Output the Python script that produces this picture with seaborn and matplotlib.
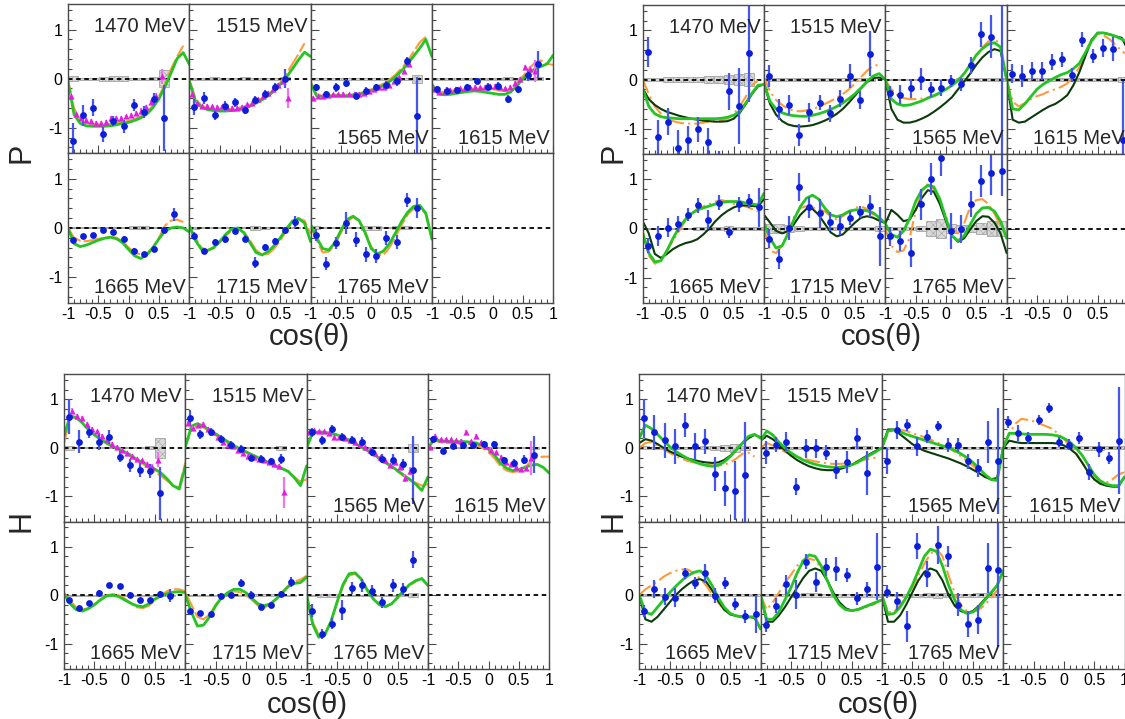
import matplotlib
matplotlib.use("Agg")
import matplotlib.pyplot as plt
from matplotlib.ticker import FixedLocator, MultipleLocator
import seaborn as sns

# ---------------------------------------------------------------- data
ENERGY_LABELS = ["1470 MeV", "1515 MeV", "1565 MeV", "1615 MeV",
                 "1665 MeV", "1715 MeV", "1765 MeV"]

# cos(theta) grid on which the model curves are tabulated
COS_GRID = [-1.0, -0.9, -0.8, -0.7, -0.6, -0.5, -0.4, -0.3, -0.2, -0.1, 0.0,
            0.1, 0.2, 0.3, 0.4, 0.5, 0.6, 0.7, 0.8, 0.9, 1.0]
# bin centres of the measured points (12 bins)
BIN_CENTERS = [-0.917, -0.75, -0.583, -0.417, -0.25, -0.083,
               0.083, 0.25, 0.417, 0.583, 0.75, 0.917]
# bin centres of the finer reference data set (24 bins)
MAG_GRID = [-0.958, -0.875, -0.792, -0.708, -0.625, -0.542, -0.458, -0.375,
            -0.292, -0.208, -0.125, -0.042, 0.042, 0.125, 0.208, 0.292,
            0.375, 0.458, 0.542, 0.625, 0.708, 0.792, 0.875, 0.958]

# ---- P, left block
P_L_Y = [
    [-1.26, -0.75, -0.59, -1.13, -0.87, -0.97, -0.53, -0.68, -0.42, -0.80],
    [-0.58, -0.40, -0.74, -0.55, -0.48, -0.63, -0.44, -0.31, -0.18, 0.00],
    [-0.18, -0.32, -0.18, -0.08, -0.35, -0.25, -0.18, -0.12, -0.05, 0.35, -0.76],
    [-0.22, -0.25, -0.23, -0.16, -0.05, -0.16, -0.14, -0.41, -0.22, 0.07, 0.29],
    [-0.25, -0.17, -0.14, -0.05, -0.09, -0.23, -0.47, -0.54, -0.42, -0.05, 0.28],
    [-0.16, -0.47, -0.28, -0.22, -0.06, -0.22, -0.71, -0.39, -0.27, -0.05, 0.12],
    [-0.15, -0.73, -0.31, 0.10, -0.24, -0.54, -0.57, -0.21, -0.28, 0.57, 0.41],
]
P_L_ERR = [
    [0.35, 0.22, 0.17, 0.15, 0.10, 0.13, 0.12, 0.12, 0.12, 0.68],
    [0.17, 0.12, 0.10, 0.10, 0.09, 0.08, 0.08, 0.08, 0.09, 0.20],
    [0.07, 0.07, 0.09, 0.08, 0.07, 0.07, 0.08, 0.08, 0.09, 0.10, 0.80],
    [0.07, 0.07, 0.06, 0.06, 0.06, 0.07, 0.07, 0.08, 0.08, 0.11, 0.27],
    [0.05, 0.04, 0.04, 0.05, 0.05, 0.06, 0.06, 0.06, 0.06, 0.07, 0.13],
    [0.07, 0.06, 0.06, 0.08, 0.06, 0.07, 0.11, 0.07, 0.07, 0.07, 0.12],
    [0.12, 0.13, 0.12, 0.22, 0.15, 0.15, 0.15, 0.14, 0.14, 0.15, 0.20],
]
P_L_SYS = [
    [0.05, 0.02, 0.02, 0.04, 0.05, 0.05, 0.02, 0.02, 0.03, 0.18],
    [0.02, 0.02, 0.03, 0.02, 0.02, 0.03, 0.02, 0.02, 0.02, 0.03],
    [0.02, 0.02, 0.02, 0.02, 0.02, 0.02, 0.02, 0.02, 0.02, 0.02, 0.08],
    [0.02, 0.02, 0.02, 0.02, 0.02, 0.02, 0.02, 0.03, 0.02, 0.02, 0.03],
    [0.01, 0.01, 0.01, 0.01, 0.01, 0.01, 0.03, 0.03, 0.01, 0.01, 0.01],
    [0.02, 0.01, 0.01, 0.01, 0.01, 0.01, 0.04, 0.02, 0.01, 0.01, 0.01],
    [0.03, 0.01, 0.01, 0.01, 0.01, 0.04, 0.04, 0.01, 0.03, 0.03, 0.01],
]
P_L_MAG_START = [0, 0, 0, 0]
P_L_MAG_Y = [
    [-0.35, -0.72, -0.80, -0.84, -0.86, -0.90, -0.90, -0.88, -0.80, -0.80,
     -0.80, -0.77, -0.73, -0.70, -0.65, -0.58, -0.48, -0.35, 0.05],
    [-0.32, -0.49, -0.55, -0.55, -0.56, -0.57, -0.56, -0.58, -0.59, -0.59,
     -0.57, -0.52, -0.49, -0.42, -0.35, -0.29, -0.22, -0.12, -0.05, -0.39],
    [-0.39, -0.35, -0.35, -0.34, -0.32, -0.32, -0.31, -0.32, -0.32, -0.31,
     -0.29, -0.25, -0.22, -0.18, -0.16, -0.12, -0.05, 0.04, 0.16, 0.29],
    [-0.22, -0.27, -0.25, -0.23, -0.22, -0.20, -0.19, -0.18, -0.16, -0.18,
     -0.16, -0.15, -0.14, -0.16, -0.20, -0.16, -0.08, -0.01, 0.23, 0.19, 0.16],
]
P_L_MAG_ERR = [
    [0.05, 0.05, 0.04, 0.04, 0.04, 0.04, 0.04, 0.04, 0.04, 0.04,
     0.04, 0.04, 0.04, 0.04, 0.05, 0.05, 0.05, 0.06, 0.15],
    [0.04, 0.03, 0.03, 0.03, 0.03, 0.03, 0.03, 0.03, 0.03, 0.03,
     0.03, 0.03, 0.03, 0.03, 0.03, 0.03, 0.04, 0.04, 0.05, 0.20],
    [0.03, 0.03, 0.03, 0.03, 0.03, 0.03, 0.03, 0.03, 0.03, 0.03,
     0.03, 0.03, 0.03, 0.03, 0.03, 0.03, 0.03, 0.04, 0.04, 0.05],
    [0.03, 0.03, 0.03, 0.03, 0.03, 0.03, 0.03, 0.03, 0.03, 0.03,
     0.03, 0.03, 0.03, 0.03, 0.03, 0.03, 0.04, 0.04, 0.05, 0.06, 0.22],
]
P_L_SOL1 = [
    [-0.05, -0.73, -0.91, -0.96, -0.97, -0.97, -0.97, -0.96, -0.94, -0.91, -0.89,
     -0.85, -0.80, -0.72, -0.59, -0.41, -0.16, 0.12, 0.41, 0.53, 0.29],
    [-0.05, -0.45, -0.58, -0.63, -0.65, -0.66, -0.66, -0.65, -0.63, -0.60, -0.56,
     -0.50, -0.43, -0.35, -0.25, -0.12, 0.03, 0.20, 0.38, 0.54, 0.45],
    [-0.10, -0.35, -0.36, -0.36, -0.35, -0.35, -0.35, -0.34, -0.32, -0.28, -0.24,
     -0.20, -0.14, -0.06, 0.04, 0.16, 0.30, 0.46, 0.62, 0.80, 0.45],
    [-0.12, -0.30, -0.33, -0.32, -0.30, -0.28, -0.26, -0.25, -0.26, -0.28, -0.30,
     -0.32, -0.32, -0.27, -0.15, 0.00, 0.12, 0.20, 0.25, 0.30, 0.48],
    [0.00, -0.32, -0.38, -0.35, -0.30, -0.25, -0.21, -0.19, -0.22, -0.30, -0.44,
     -0.57, -0.62, -0.55, -0.40, -0.22, -0.06, 0.00, 0.02, 0.00, -0.08],
    [0.05, -0.25, -0.44, -0.46, -0.40, -0.28, -0.13, -0.02, 0.00, -0.10, -0.30,
     -0.50, -0.55, -0.48, -0.36, -0.20, -0.02, 0.14, 0.19, 0.10, -0.28],
    [0.07, -0.20, -0.42, -0.45, -0.30, -0.05, 0.17, 0.24, 0.15, -0.10, -0.42,
     -0.53, -0.47, -0.32, -0.10, 0.13, 0.32, 0.44, 0.46, 0.30, -0.23],
]
P_L_ORANGE = [
    [-0.05, -0.60, -0.85, -0.90, -0.92, -0.93, -0.93, -0.92, -0.90, -0.88,
     -0.86, -0.82, -0.77, -0.68, -0.55, -0.36, -0.10, 0.20, 0.45, 0.67],
    [-0.02, -0.40, -0.55, -0.60, -0.62, -0.63, -0.63, -0.62, -0.60, -0.57,
     -0.53, -0.47, -0.40, -0.32, -0.21, -0.08, 0.10, 0.30, 0.50, 0.72],
    [-0.05, -0.32, -0.34, -0.34, -0.33, -0.33, -0.33, -0.32, -0.30, -0.26,
     -0.22, -0.17, -0.10, -0.02, 0.08, 0.21, 0.36, 0.55, 0.74, 0.85],
    [-0.10, -0.28, -0.27, -0.25, -0.23, -0.22, -0.21, -0.20, -0.20, -0.20,
     -0.21, -0.24, -0.25, -0.20, -0.08, 0.05, 0.20, 0.33, 0.37, 0.30, 0.28],
    [0.00, -0.20, -0.26, -0.27, -0.25, -0.22, -0.20, -0.18, -0.20, -0.27,
     -0.40, -0.50, -0.54, -0.52, -0.40, -0.20, 0.05, 0.15, 0.17, 0.12],
    [0.05, -0.20, -0.40, -0.45, -0.42, -0.30, -0.16, -0.05, -0.02, -0.08,
     -0.25, -0.45, -0.55, -0.53, -0.42, -0.26, -0.06, 0.12, 0.20, 0.15, -0.12],
    [0.05, -0.25, -0.50, -0.48, -0.35, -0.10, 0.12, 0.22, 0.14, -0.08,
     -0.38, -0.55, -0.55, -0.40, -0.18, 0.06, 0.27, 0.40, 0.42, 0.28, -0.18],
]

# ---- P, right block
P_R_Y = [
    [0.56, -1.17, -0.86, -1.39, -1.23, -1.02, -1.27, -1.75, -0.24, -0.54, 0.55],
    [0.07, -0.61, -0.52, -1.13, -0.67, -0.47, -0.69, -0.39, 0.07, -0.42, 0.53],
    [-0.28, -0.31, -0.18, 0.01, -0.20, -0.18, -0.03, -0.10, 0.29, 0.92, 0.87, -1.70],
    [0.12, 0.07, 0.17, 0.17, 0.36, 0.41, 0.09, 0.81, 0.48, 0.64, 0.62, -1.23],
    [-0.35, -0.15, 0.02, 0.09, 0.28, 0.47, 0.18, 0.53, -0.08, 0.49, 0.56, 0.43],
    [-0.21, -0.62, 0.01, 0.85, 0.43, 0.31, 0.14, 0.06, 0.21, 0.33, 0.46, -0.16],
    [-0.16, -0.26, -0.49, 0.49, 1.01, 1.43, -0.05, -0.01, 0.50, 0.97, 1.13, 1.17],
]
P_R_ERR = [
    [0.30, 0.35, 0.28, 0.35, 0.28, 0.26, 0.28, 0.30, 0.38, 0.77, 1.00],
    [0.23, 0.22, 0.20, 0.22, 0.19, 0.15, 0.17, 0.17, 0.25, 0.18, 0.46],
    [0.14, 0.20, 0.20, 0.22, 0.15, 0.16, 0.13, 0.14, 0.17, 0.25, 0.44, 3.30],
    [0.20, 0.23, 0.19, 0.19, 0.17, 0.15, 0.14, 0.15, 0.15, 0.19, 0.25, 1.20],
    [0.15, 0.20, 0.20, 0.16, 0.13, 0.15, 0.19, 0.15, 0.12, 0.15, 0.15, 0.39],
    [0.19, 0.20, 0.24, 0.29, 0.22, 0.29, 0.20, 0.19, 0.14, 0.12, 0.22, 0.60],
    [0.20, 0.20, 0.29, 0.32, 0.32, 0.35, 0.37, 0.29, 0.26, 0.32, 0.44, 0.50],
]
P_R_SYS = [
    [0.04, 0.04, 0.05, 0.06, 0.06, 0.06, 0.07, 0.08, 0.10, 0.12, 0.14],
    [0.03, 0.03, 0.03, 0.04, 0.04, 0.04, 0.03, 0.03, 0.03, 0.03, 0.04],
    [0.02, 0.02, 0.02, 0.02, 0.02, 0.02, 0.02, 0.03, 0.03, 0.04, 0.04, 0.04],
    [0.03, 0.03, 0.03, 0.03, 0.03, 0.03, 0.03, 0.03, 0.03, 0.03, 0.04, 0.05],
    [0.02, 0.02, 0.02, 0.02, 0.02, 0.03, 0.04, 0.04, 0.05, 0.03, 0.03, 0.03],
    [0.10, 0.09, 0.08, 0.05, 0.04, 0.03, 0.03, 0.03, 0.04, 0.04, 0.04, 0.05],
    [0.03, 0.03, 0.04, 0.06, 0.15, 0.19, 0.10, 0.08, 0.08, 0.12, 0.15, 0.15],
]
P_R_SOL1 = [
    [-0.18, -0.55, -0.70, -0.76, -0.78, -0.79, -0.80, -0.80, -0.80, -0.80, -0.80,
     -0.80, -0.80, -0.79, -0.77, -0.73, -0.65, -0.48, -0.28, -0.12, -0.10],
    [-0.08, -0.45, -0.60, -0.68, -0.72, -0.74, -0.75, -0.75, -0.73, -0.70, -0.66,
     -0.61, -0.55, -0.48, -0.39, -0.29, -0.17, -0.04, 0.07, 0.12, 0.00],
    [0.00, -0.40, -0.50, -0.53, -0.52, -0.48, -0.44, -0.38, -0.33, -0.27, -0.20,
     -0.12, -0.02, 0.12, 0.30, 0.50, 0.63, 0.72, 0.75, 0.66, 0.00],
    [0.00, -0.60, -0.62, -0.50, -0.35, -0.20, -0.10, -0.03, 0.04, 0.10, 0.14,
     0.22, 0.33, 0.55, 0.78, 0.95, 0.95, 0.92, 0.88, 0.82, 0.75],
    [-0.10, -0.50, -0.68, -0.66, -0.45, -0.20, 0.02, 0.18, 0.30, 0.38, 0.42,
     0.46, 0.50, 0.53, 0.55, 0.55, 0.55, 0.52, 0.50, 0.48, 0.72],
    [0.11, -0.20, -0.40, -0.35, -0.10, 0.20, 0.45, 0.62, 0.68, 0.60, 0.42,
     0.28, 0.24, 0.28, 0.35, 0.38, 0.38, 0.36, 0.32, 0.22, 0.11],
    [0.10, -0.12, -0.18, -0.05, 0.20, 0.55, 0.78, 0.88, 0.85, 0.60, 0.20,
     -0.15, -0.25, -0.15, 0.08, 0.30, 0.42, 0.43, 0.35, 0.15, -0.20],
]
P_R_SOL2 = [
    [-0.18, -0.40, -0.52, -0.60, -0.66, -0.70, -0.74, -0.77, -0.80, -0.82, -0.84,
     -0.85, -0.86, -0.86, -0.85, -0.80, -0.68, -0.50, -0.30, -0.14, -0.10],
    [-0.08, -0.50, -0.72, -0.85, -0.92, -0.95, -0.96, -0.95, -0.93, -0.89, -0.84,
     -0.78, -0.70, -0.60, -0.47, -0.33, -0.18, -0.05, 0.03, 0.04, 0.00],
    [0.00, -0.60, -0.82, -0.88, -0.88, -0.85, -0.80, -0.74, -0.66, -0.57, -0.47,
     -0.36, -0.20, -0.04, 0.12, 0.30, 0.45, 0.56, 0.62, 0.58, 0.00],
    [0.00, -0.82, -0.88, -0.86, -0.78, -0.70, -0.62, -0.55, -0.50, -0.42, -0.32,
     -0.12, 0.15, 0.48, 0.80, 0.95, 0.95, 0.92, 0.88, 0.85, 0.60],
    [0.15, -0.10, -0.52, -0.60, -0.52, -0.42, -0.35, -0.30, -0.27, -0.22, -0.12,
     0.00, 0.15, 0.27, 0.36, 0.43, 0.47, 0.47, 0.46, 0.45, 0.60],
    [0.28, 0.12, -0.05, -0.10, -0.05, 0.10, 0.28, 0.40, 0.40, 0.28, 0.10,
     -0.08, -0.16, -0.12, 0.00, 0.12, 0.22, 0.25, 0.22, 0.16, 0.11],
    [0.10, 0.38, 0.28, 0.15, 0.18, 0.38, 0.62, 0.78, 0.75, 0.50, 0.15,
     -0.15, -0.27, -0.20, -0.02, 0.15, 0.25, 0.24, 0.12, -0.10, -0.50],
]
P_R_ORANGE = [
    [0.00, -0.30, -0.55, -0.70, -0.80, -0.85, -0.88, -0.90, -0.90, -0.90,
     -0.88, -0.86, -0.85, -0.83, -0.80, -0.70, -0.55, -0.35, -0.12, -0.02],
    [0.05, -0.25, -0.42, -0.52, -0.60, -0.64, -0.65, -0.63, -0.60, -0.56,
     -0.50, -0.44, -0.37, -0.30, -0.20, -0.08, 0.05, 0.18, 0.28, 0.30],
    [0.00, -0.20, -0.32, -0.38, -0.40, -0.40, -0.39, -0.37, -0.34, -0.28,
     -0.20, -0.12, 0.00, 0.13, 0.30, 0.48, 0.65, 0.78, 0.80, 0.75],
    [0.00, -0.45, -0.55, -0.48, -0.40, -0.34, -0.30, -0.24, -0.20, -0.15,
     -0.08, 0.05, 0.25, 0.55, 0.82, 0.93, 0.90, 0.82, 0.70, 0.58, 0.50],
    [-0.05, -0.55, -0.72, -0.65, -0.45, -0.25, -0.05, 0.15, 0.30, 0.40,
     0.45, 0.50, 0.55, 0.58, 0.55, 0.50, 0.48, 0.45, 0.40, 0.35],
    [0.00, -0.45, -0.50, -0.35, -0.05, 0.25, 0.42, 0.45, 0.43, 0.40,
     0.35, 0.25, 0.18, 0.25, 0.35, 0.42, 0.45, 0.40, 0.28, 0.12],
    [0.00, -0.35, -0.48, -0.45, -0.20, 0.35, 0.75, 0.90, 0.80, 0.50,
     0.25, 0.00, -0.10, 0.10, 0.45, 0.58, 0.60, 0.50, 0.30, 0.05],
]

# ---- H, left block
H_L_Y = [
    [0.64, 0.13, 0.33, 0.12, 0.22, -0.18, -0.36, -0.46, -0.48, -0.94],
    [0.62, 0.28, 0.33, 0.18, 0.07, -0.02, -0.20, -0.22, -0.28, -0.23],
    [0.32, 0.16, 0.39, 0.22, 0.16, 0.13, -0.09, -0.22, -0.24, -0.34, -0.46],
    [0.18, -0.07, 0.03, 0.06, 0.05, 0.09, 0.08, -0.26, -0.31, -0.24, -0.14],
    [-0.10, -0.26, -0.17, 0.05, 0.20, 0.18, 0.01, -0.10, -0.10, 0.03, -0.01],
    [-0.33, -0.37, -0.40, -0.02, 0.01, 0.25, 0.01, -0.25, -0.20, 0.03, 0.27],
    [-0.32, -0.81, -0.59, -0.31, 0.15, 0.20, 0.09, -0.15, 0.20, 0.12, 0.73],
]
H_L_ERR = [
    [0.36, 0.23, 0.12, 0.17, 0.14, 0.12, 0.14, 0.14, 0.15, 0.55],
    [0.17, 0.10, 0.08, 0.08, 0.07, 0.07, 0.07, 0.08, 0.08, 0.10],
    [0.10, 0.09, 0.09, 0.08, 0.08, 0.09, 0.08, 0.09, 0.11, 0.12, 0.70],
    [0.07, 0.06, 0.06, 0.06, 0.06, 0.06, 0.06, 0.08, 0.08, 0.10, 0.38],
    [0.05, 0.04, 0.04, 0.05, 0.05, 0.05, 0.05, 0.05, 0.05, 0.06, 0.14],
    [0.05, 0.05, 0.05, 0.06, 0.06, 0.09, 0.07, 0.06, 0.06, 0.06, 0.11],
    [0.13, 0.10, 0.12, 0.20, 0.13, 0.14, 0.12, 0.12, 0.14, 0.12, 0.18],
]
H_L_SYS = [
    [0.04, 0.01, 0.01, 0.01, 0.01, 0.01, 0.01, 0.01, 0.03, 0.20],
    [0.01, 0.01, 0.01, 0.01, 0.01, 0.01, 0.01, 0.01, 0.01, 0.04],
    [0.01, 0.01, 0.01, 0.01, 0.01, 0.01, 0.01, 0.01, 0.01, 0.01, 0.08],
    [0.01, 0.01, 0.01, 0.01, 0.01, 0.01, 0.01, 0.01, 0.01, 0.01, 0.02],
    [0.01, 0.01, 0.01, 0.01, 0.01, 0.01, 0.01, 0.01, 0.01, 0.01, 0.01],
    [0.01, 0.01, 0.01, 0.01, 0.01, 0.01, 0.02, 0.02, 0.02, 0.01, 0.01],
    [0.01, 0.03, 0.03, 0.01, 0.01, 0.01, 0.01, 0.01, 0.01, 0.01, 0.04],
]
H_L_MAG_START = [1, 0, 0, 0]
H_L_MAG_Y = [
    [0.76, 0.66, 0.61, 0.49, 0.39, 0.34, 0.25, 0.18, 0.09, 0.01,
     -0.04, -0.11, -0.16, -0.22, -0.26, -0.34, -0.39, -0.24],
    [0.52, 0.42, 0.47, 0.50, 0.39, 0.32, 0.22, 0.12, 0.07, 0.03,
     -0.04, -0.11, -0.16, -0.19, -0.22, -0.26, -0.29, -0.33, -0.38, -0.92],
    [0.32, 0.37, 0.34, 0.35, 0.30, 0.22, 0.23, 0.20, 0.16, 0.12,
     0.08, 0.01, -0.05, -0.11, -0.19, -0.24, -0.36, -0.29, -0.39, -0.62, -0.47],
    [0.01, 0.25, 0.18, 0.18, 0.18, 0.16, 0.15, 0.33, 0.14, 0.25,
     0.12, 0.03, -0.04, -0.09, -0.18, -0.29, -0.33, -0.39, -0.43, -0.41, -0.20],
]
H_L_MAG_ERR = [
    [0.06, 0.04, 0.04, 0.04, 0.04, 0.04, 0.04, 0.04, 0.04, 0.04,
     0.04, 0.04, 0.04, 0.04, 0.04, 0.05, 0.05, 0.15],
    [0.04, 0.03, 0.03, 0.03, 0.03, 0.03, 0.03, 0.03, 0.03, 0.03,
     0.03, 0.03, 0.03, 0.03, 0.03, 0.03, 0.03, 0.04, 0.05, 0.32],
    [0.03, 0.03, 0.03, 0.03, 0.03, 0.03, 0.03, 0.03, 0.03, 0.03,
     0.03, 0.03, 0.03, 0.03, 0.03, 0.03, 0.04, 0.04, 0.05, 0.08, 0.08],
    [0.03, 0.03, 0.03, 0.03, 0.03, 0.03, 0.03, 0.03, 0.03, 0.03,
     0.03, 0.03, 0.03, 0.03, 0.03, 0.03, 0.04, 0.04, 0.04, 0.05, 0.35],
]
H_L_SOL1 = [
    [0.25, 0.66, 0.63, 0.52, 0.38, 0.27, 0.18, 0.10, 0.03, -0.02, -0.08,
     -0.15, -0.24, -0.30, -0.37, -0.44, -0.52, -0.64, -0.78, -0.85, -0.38],
    [0.01, 0.45, 0.50, 0.45, 0.37, 0.29, 0.21, 0.13, 0.05, -0.02, -0.08,
     -0.14, -0.20, -0.26, -0.32, -0.38, -0.43, -0.49, -0.62, -0.78, -0.37],
    [0.00, 0.32, 0.33, 0.32, 0.30, 0.27, 0.22, 0.16, 0.09, 0.02, -0.05,
     -0.13, -0.22, -0.30, -0.38, -0.47, -0.56, -0.65, -0.75, -0.88, -0.60],
    [0.00, 0.17, 0.15, 0.14, 0.13, 0.13, 0.13, 0.12, 0.10, 0.05, -0.03,
     -0.15, -0.32, -0.42, -0.47, -0.45, -0.40, -0.36, -0.34, -0.40, -0.52],
    [0.03, -0.18, -0.30, -0.33, -0.28, -0.20, -0.10, -0.02, 0.00, -0.03, -0.10,
     -0.17, -0.22, -0.24, -0.18, -0.08, -0.02, 0.03, 0.06, 0.07, 0.05],
    [0.00, -0.35, -0.64, -0.62, -0.45, -0.22, -0.05, 0.05, 0.12, 0.12, 0.05,
     -0.07, -0.18, -0.22, -0.18, -0.08, 0.05, 0.18, 0.24, 0.26, 0.37],
    [0.00, -0.60, -0.87, -0.82, -0.55, -0.15, 0.22, 0.44, 0.46, 0.33, 0.10,
     -0.08, -0.20, -0.24, -0.18, -0.05, 0.10, 0.22, 0.30, 0.34, 0.20],
]
H_L_ORANGE = [
    [0.10, 0.62, 0.62, 0.52, 0.38, 0.27, 0.18, 0.10, 0.03, -0.03, -0.09,
     -0.17, -0.26, -0.33, -0.42, -0.50, -0.58, -0.68, -0.78, -0.82, -0.30],
    [0.05, 0.40, 0.45, 0.42, 0.34, 0.26, 0.18, 0.10, 0.03, -0.04, -0.10,
     -0.16, -0.22, -0.27, -0.32, -0.37, -0.42, -0.48, -0.60, -0.70, -0.65],
    [0.00, 0.30, 0.32, 0.31, 0.29, 0.26, 0.21, 0.15, 0.08, 0.01, -0.06,
     -0.14, -0.23, -0.31, -0.40, -0.49, -0.58, -0.66, -0.72, -0.78, -0.75],
    [0.00, 0.15, 0.12, 0.10, 0.10, 0.10, 0.09, 0.08, 0.05, 0.00, -0.08,
     -0.22, -0.38, -0.47, -0.50, -0.48, -0.40, -0.28, -0.20, -0.18, -0.18],
    [0.05, -0.12, -0.25, -0.30, -0.27, -0.19, -0.09, -0.01, 0.02, 0.00, -0.07,
     -0.16, -0.25, -0.27, -0.22, -0.10, 0.00, 0.08, 0.12, 0.12, 0.08],
    [0.05, -0.20, -0.45, -0.50, -0.40, -0.20, -0.05, 0.02, 0.08, 0.06, 0.00,
     -0.10, -0.22, -0.26, -0.20, -0.08, 0.06, 0.20, 0.28, 0.32, 0.40],
    [0.00, -0.55, -0.82, -0.80, -0.55, -0.18, 0.18, 0.40, 0.44, 0.34, 0.12,
     -0.06, -0.18, -0.23, -0.18, -0.06, 0.08, 0.20, 0.28, 0.35, 0.20],
]

# ---- H, right block
H_R_Y = [
    [0.61, 0.32, 0.16, 0.03, 0.47, 0.03, 0.14, -0.54, -0.83, -0.88, -0.56],
    [-0.10, 0.07, 0.12, -0.80, -0.01, -0.01, -0.10, -0.45, -0.29, 0.20, -0.52],
    [-0.27, 0.37, 0.47, 0.03, 0.23, 0.45, 0.06, 0.06, -0.28, -0.42, 0.12, -0.27],
    [0.54, 0.31, 0.20, 0.57, 0.83, 0.12, 0.07, 0.20, -0.50, -0.03, -0.21, 0.15],
    [-0.33, 0.12, -0.03, -0.05, 0.45, 0.25, 0.45, -0.01, 0.25, -0.18, -0.44, -0.39],
    [-0.61, -0.22, 0.22, 0.01, 0.69, 0.27, 0.58, 0.54, 0.42, -0.07, 0.12, 0.59],
    [0.07, -0.12, -0.64, 1.02, 0.44, 1.04, 0.80, -0.20, -0.60, -0.51, 0.56, 0.52],
]
H_R_ERR = [
    [0.40, 0.36, 0.36, 0.36, 0.25, 0.27, 0.26, 0.36, 0.36, 0.60, 1.10],
    [0.24, 0.16, 0.20, 0.17, 0.19, 0.19, 0.16, 0.19, 0.22, 0.22, 0.45],
    [0.26, 0.19, 0.12, 0.19, 0.13, 0.10, 0.15, 0.15, 0.15, 0.19, 0.44, 1.10],
    [0.12, 0.17, 0.12, 0.10, 0.10, 0.10, 0.12, 0.12, 0.17, 0.15, 0.13, 1.10],
    [0.12, 0.19, 0.17, 0.19, 0.12, 0.12, 0.20, 0.15, 0.12, 0.12, 0.14, 0.40],
    [0.15, 0.15, 0.20, 0.30, 0.16, 0.20, 0.19, 0.24, 0.15, 0.14, 0.15, 0.70],
    [0.14, 0.19, 0.32, 0.27, 0.27, 0.39, 0.22, 0.24, 0.27, 0.30, 0.52, 1.60],
]
H_R_SYS = [
    [0.03, 0.02, 0.02, 0.02, 0.02, 0.02, 0.03, 0.04, 0.06, 0.08, 0.04],
    [0.02, 0.02, 0.02, 0.02, 0.02, 0.02, 0.02, 0.02, 0.02, 0.03, 0.03],
    [0.02, 0.02, 0.02, 0.02, 0.02, 0.02, 0.02, 0.02, 0.02, 0.02, 0.02, 0.02],
    [0.02, 0.02, 0.02, 0.02, 0.02, 0.02, 0.02, 0.03, 0.04, 0.04, 0.03, 0.03],
    [0.02, 0.02, 0.02, 0.02, 0.02, 0.02, 0.02, 0.02, 0.02, 0.02, 0.02, 0.02],
    [0.02, 0.02, 0.02, 0.03, 0.04, 0.04, 0.03, 0.03, 0.03, 0.03, 0.03, 0.03],
    [0.02, 0.02, 0.03, 0.03, 0.04, 0.05, 0.04, 0.03, 0.03, 0.04, 0.04, 0.03],
]
H_R_SOL1 = [
    [0.20, 0.47, 0.40, 0.28, 0.15, 0.03, -0.07, -0.15, -0.22, -0.28, -0.33,
     -0.36, -0.38, -0.36, -0.29, -0.18, -0.04, 0.10, 0.24, 0.28, 0.20],
    [0.15, 0.35, 0.27, 0.12, 0.00, -0.10, -0.18, -0.25, -0.30, -0.34, -0.37,
     -0.39, -0.40, -0.40, -0.38, -0.35, -0.30, -0.22, -0.15, -0.08, 0.00],
    [0.00, 0.35, 0.37, 0.33, 0.28, 0.24, 0.20, 0.16, 0.12, 0.08, 0.04,
     0.00, -0.05, -0.12, -0.20, -0.30, -0.42, -0.55, -0.65, -0.67, 0.00],
    [0.00, 0.30, 0.30, 0.29, 0.28, 0.28, 0.28, 0.28, 0.27, 0.25, 0.20,
     0.12, 0.00, -0.15, -0.35, -0.55, -0.68, -0.75, -0.78, -0.78, -0.60],
    [0.00, -0.35, -0.40, -0.25, -0.10, 0.05, 0.18, 0.30, 0.40, 0.47, 0.50,
     0.40, 0.20, -0.05, -0.25, -0.38, -0.43, -0.45, -0.45, -0.45, -0.70],
    [0.00, -0.50, -0.50, -0.35, -0.10, 0.15, 0.45, 0.70, 0.83, 0.80, 0.60,
     0.30, 0.00, -0.20, -0.30, -0.32, -0.30, -0.25, -0.20, -0.15, -0.10],
    [0.00, -0.40, -0.38, -0.25, -0.05, 0.20, 0.50, 0.80, 0.95, 0.90, 0.60,
     0.20, -0.10, -0.30, -0.38, -0.35, -0.25, -0.10, 0.05, 0.20, 0.50],
]
H_R_SOL2 = [
    [0.10, 0.18, 0.15, 0.08, 0.00, -0.07, -0.13, -0.18, -0.22, -0.25, -0.28,
     -0.30, -0.31, -0.30, -0.25, -0.16, -0.04, 0.09, 0.20, 0.27, 0.22],
    [0.15, 0.25, 0.18, 0.08, -0.05, -0.16, -0.25, -0.32, -0.38, -0.42, -0.45,
     -0.46, -0.46, -0.44, -0.40, -0.35, -0.28, -0.20, -0.13, -0.06, 0.00],
    [0.00, 0.38, 0.38, 0.28, 0.18, 0.08, 0.00, -0.06, -0.10, -0.14, -0.18,
     -0.22, -0.27, -0.32, -0.38, -0.45, -0.52, -0.60, -0.65, -0.62, 0.00],
    [0.00, 0.15, 0.12, 0.10, 0.10, 0.10, 0.10, 0.10, 0.10, 0.09, 0.05,
     -0.02, -0.12, -0.30, -0.50, -0.65, -0.74, -0.78, -0.80, -0.80, -0.60],
    [0.00, -0.50, -0.55, -0.45, -0.30, -0.15, 0.00, 0.12, 0.22, 0.30, 0.33,
     0.28, 0.10, -0.12, -0.30, -0.40, -0.43, -0.45, -0.45, -0.47, -0.70],
    [0.00, -0.55, -0.55, -0.42, -0.25, -0.05, 0.15, 0.35, 0.50, 0.55, 0.50,
     0.30, 0.05, -0.15, -0.27, -0.32, -0.30, -0.25, -0.20, -0.15, -0.10],
    [0.00, -0.55, -0.55, -0.42, -0.20, 0.05, 0.30, 0.48, 0.55, 0.50, 0.30,
     0.00, -0.22, -0.33, -0.37, -0.33, -0.22, -0.08, 0.05, 0.20, 0.50],
]
H_R_ORANGE = [
    [0.00, 0.10, 0.12, 0.05, -0.03, -0.10, -0.17, -0.22, -0.27, -0.30,
     -0.33, -0.35, -0.36, -0.36, -0.35, -0.30, -0.22, -0.12, -0.10, -0.18],
    [0.00, 0.10, 0.05, -0.02, -0.08, -0.14, -0.18, -0.22, -0.25, -0.28,
     -0.30, -0.32, -0.33, -0.33, -0.32, -0.30, -0.28, -0.25, -0.22, -0.20],
    [0.00, 0.30, 0.38, 0.37, 0.35, 0.30, 0.27, 0.22, 0.17, 0.12,
     0.06, 0.00, -0.08, -0.17, -0.27, -0.37, -0.47, -0.58, -0.66, -0.68],
    [0.05, 0.30, 0.50, 0.60, 0.58, 0.55, 0.50, 0.45, 0.40, 0.30,
     0.18, 0.05, -0.10, -0.30, -0.50, -0.62, -0.70, -0.72, -0.65, -0.55, -0.50],
    [0.00, 0.12, 0.20, 0.28, 0.38, 0.45, 0.50, 0.53, 0.53, 0.45,
     0.35, 0.20, 0.02, -0.15, -0.30, -0.38, -0.42, -0.44, -0.45, -0.45],
    [0.00, -0.30, -0.15, 0.05, 0.25, 0.42, 0.60, 0.72, 0.75, 0.72,
     0.55, 0.30, 0.00, -0.20, -0.30, -0.32, -0.30, -0.27, -0.22, -0.18],
    [0.00, -0.35, -0.35, -0.20, -0.05, 0.15, 0.40, 0.65, 0.85, 0.95,
     0.80, 0.40, 0.05, -0.20, -0.33, -0.35, -0.30, -0.20, -0.05, 0.10],
]

# ---------------------------------------------------------------- style
FIG_W, FIG_H = 1125, 719
PANEL_W = 121.3
FRAME = "#4a4a4a"
BLUE = "#0c1ed8"
BLUE_BAR = "#4657ee"
MAGENTA = "#e01fe0"
MAGENTA_BAR = "#ee77ee"
GREEN = "#25c425"
DARK_GREEN = "#0b3a0b"
ORANGE = "#ff9a3c"

sns.set_theme(style="ticks")
plt.rcParams["font.family"] = ["Liberation Sans", "DejaVu Sans"]
plt.rcParams["axes.unicode_minus"] = False
plt.rcParams["hatch.linewidth"] = 0.4

fig = plt.figure(figsize=(FIG_W / 100, FIG_H / 100), dpi=100)
fig.patch.set_facecolor("white")


def make_axes(left, top, row_h, row, col):
    x0 = left + col * PANEL_W
    y0 = top + row * row_h
    return fig.add_axes([x0 / FIG_W, 1 - (y0 + row_h) / FIG_H,
                         PANEL_W / FIG_W, row_h / FIG_H])


def finish_axes(ax, row, col):
    ax.set_xlim(-1, 1)
    ax.set_ylim(-1.52, 1.52)
    ax.set_facecolor("white")
    ax.xaxis.set_major_locator(FixedLocator([-1, -0.5, 0, 0.5, 1]))
    ax.xaxis.set_minor_locator(MultipleLocator(0.1))
    ax.yaxis.set_major_locator(FixedLocator([-1, 0, 1]))
    ax.yaxis.set_minor_locator(MultipleLocator(0.2))
    ax.tick_params(which="both", direction="in", top=False, right=False,
                   color=FRAME, width=0.8, labelsize=11.5, labelcolor="black")
    ax.tick_params(which="major", length=6)
    ax.tick_params(which="minor", length=3)
    ax.tick_params(axis="x", pad=3)
    ax.tick_params(axis="y", pad=4)
    if row == 1:
        ax.set_xticklabels(["-1", "-0.5", "0", "0.5", "1" if col == 3 else ""])
    else:
        ax.set_xticklabels([])
    if col == 0:
        ax.set_yticklabels(["-1", "0", "1"])
    else:
        ax.set_yticklabels([])
    for sp in ax.spines.values():
        sp.set_color(FRAME)
        sp.set_linewidth(1.0)
        sp.set_zorder(10)
    ax.set_xlabel("")
    ax.set_ylabel("")
    ax.axhline(0, color="black", lw=1.3, ls=(0, (2.5, 2)), zorder=2)


def draw_points(ax, xs, ys, errs, color, bar_color, marker, size):
    lo = [y - e for y, e in zip(ys, errs)]
    hi = [y + e for y, e in zip(ys, errs)]
    ax.vlines(xs, lo, hi, color=bar_color, lw=1.6, zorder=6)
    sns.scatterplot(x=xs, y=ys, ax=ax, color=color, marker=marker, s=size,
                    linewidth=0, zorder=7, legend=False)


def draw_curve(ax, ys, color, lw, style, z):
    xs = COS_GRID[:len(ys)]
    sns.lineplot(x=xs, y=ys, ax=ax, color=color, lw=lw, linestyle=style,
                 estimator=None, sort=False, errorbar=None, zorder=z,
                 legend=False)


def draw_block(left, top, row_h, ys, errs, syss, sol1, orange, orange_style,
               sol2=None, mag_start=None, mag_y=None, mag_err=None):
    for row in range(2):
        for col in range(4):
            i = row * 4 + col
            ax = make_axes(left, top, row_h, row, col)
            if i < 7:
                n = len(ys[i])
                xs = BIN_CENTERS[:n]
                s = syss[i]
                ax.bar(xs, [2 * v for v in s], bottom=[-v for v in s],
                       width=0.16, color="#d9d9d9", edgecolor="#a3a3a3",
                       hatch="xxxx", linewidth=0.6, zorder=1)
                draw_curve(ax, orange[i], ORANGE, 1.5, orange_style, 3)
                if sol2 is not None:
                    draw_curve(ax, sol2[i], DARK_GREEN, 1.5, "-", 4)
                draw_curve(ax, sol1[i], GREEN, 2.0, "-", 5)
                if mag_y is not None and i < len(mag_y):
                    m0 = mag_start[i]
                    mx = MAG_GRID[m0:m0 + len(mag_y[i])]
                    draw_points(ax, mx, mag_y[i], mag_err[i], MAGENTA,
                                MAGENTA_BAR, "^", 20)
                draw_points(ax, xs, ys[i], errs[i], BLUE, BLUE_BAR, "o", 24)
                ypos = 0.815 if i < 2 else 0.065
                ax.text(0.972, ypos, ENERGY_LABELS[i], transform=ax.transAxes,
                        ha="right", va="baseline", fontsize=14.5, zorder=12)
            finish_axes(ax, row, col)


LEFT_DASH = (0, (9, 1.5))
RIGHT_DASH = (0, (7, 2, 1, 2))

draw_block(68.0, 4.0, 149.3, P_L_Y, P_L_ERR, P_L_SYS, P_L_SOL1, P_L_ORANGE,
           LEFT_DASH, mag_start=P_L_MAG_START, mag_y=P_L_MAG_Y,
           mag_err=P_L_MAG_ERR)
draw_block(642.7, 5.0, 149.0, P_R_Y, P_R_ERR, P_R_SYS, P_R_SOL1, P_R_ORANGE,
           RIGHT_DASH, sol2=P_R_SOL2)
draw_block(64.0, 374.3, 147.2, H_L_Y, H_L_ERR, H_L_SYS, H_L_SOL1, H_L_ORANGE,
           LEFT_DASH, mag_start=H_L_MAG_START, mag_y=H_L_MAG_Y,
           mag_err=H_L_MAG_ERR)
draw_block(639.3, 374.3, 147.2, H_R_Y, H_R_ERR, H_R_SYS, H_R_SOL1, H_R_ORANGE,
           RIGHT_DASH, sol2=H_R_SOL2)

# axis titles
for x_px, y_px, txt in [(22, 153, "P"), (614, 153, "P"),
                        (22, 521, "H"), (614, 521, "H")]:
    fig.text(x_px / FIG_W, 1 - y_px / FIG_H, txt, rotation=90, fontsize=22,
             ha="center", va="center")
for x_px, y_px in [(309, 337), (881, 337), (307, 705), (878, 705)]:
    fig.text(x_px / FIG_W, 1 - y_px / FIG_H, "cos(θ)", fontsize=21,
             ha="center", va="center")

fig.savefig("out.png", dpi=100, facecolor="white")
